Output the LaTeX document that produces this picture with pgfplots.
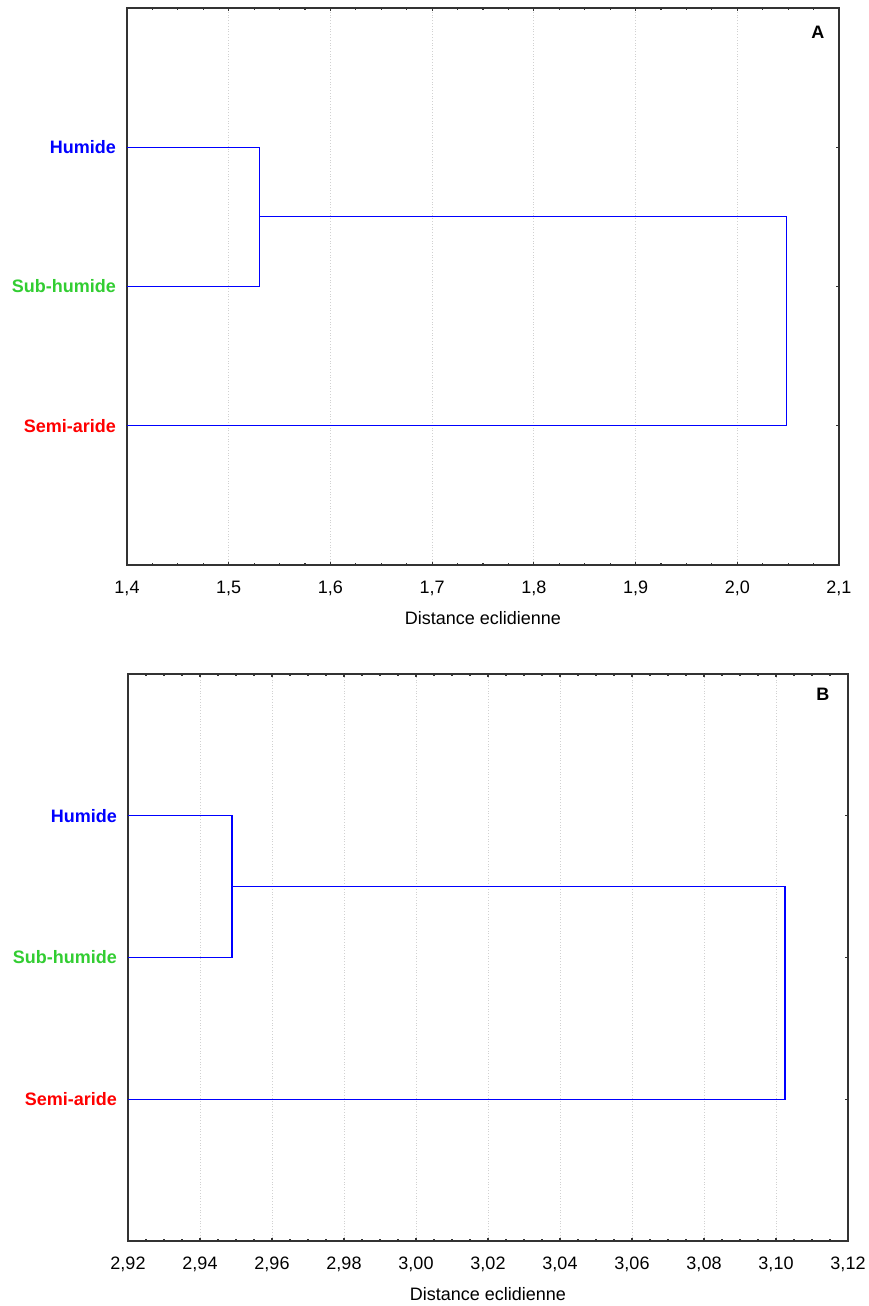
\documentclass[border=0pt]{standalone}
\usepackage{pgfplots}
\pgfplotsset{compat=1.18}
\usepackage{fontspec}
\setmainfont{Liberation Sans}
\definecolor{myblue}{RGB}{0,0,255}
\definecolor{mygreen}{RGB}{50,205,50}
\definecolor{myred}{RGB}{255,0,0}
\pgfplotsset{
  dendro/.style={
    scale only axis,
    ymin=0, ymax=4,
    ytick={1,2,3},
    yticklabels={\textbf{\textcolor{myred}{Semi-aride}}, \textbf{\textcolor{mygreen}{Sub-humide}}, \textbf{\textcolor{myblue}{Humide}}},
    minor x tick num=3,
    tick align=inside,
    major tick length=1.6bp,
    minor tick length=1.1bp,
    xticklabel pos=lower,
    yticklabel pos=left,
    xmajorgrids,
    major grid style={densely dotted, black!18, line width=0.4bp},
    axis line style={line width=0.75bp, black!80},
    every tick/.style={black!80, line width=0.6bp},
    tick label style={font=\fontsize{9bp}{11bp}\selectfont},
    xticklabel style={yshift=-4.3bp},
    yticklabel style={xshift=-2bp},
    label style={font=\fontsize{9bp}{11bp}\selectfont},
    xlabel={Distance eclidienne},
    x label style={at={(axis description cs:0.5,0)}, anchor=center, yshift=-26.3bp},
    /pgf/number format/assume math mode=true,
    /pgf/number format/use comma,
    /pgf/number format/fixed,
    /pgf/number format/fixed zerofill,
  },
}
\begin{document}
\begin{tikzpicture}
\useasboundingbox (0,0) rectangle (434.5bp,653bp);
\begin{axis}[dendro,
  at={(63.5bp,370.5bp)}, anchor=south west,
  width=356bp, height=278.5bp,
  xmin=1.4, xmax=2.1, xtick distance=0.1,
  /pgf/number format/precision=1,
]
\addplot[myblue, line width=0.55bp] coordinates {(1.4,3) (1.530,3) (1.530,2) (1.4,2)};
\addplot[myblue, line width=0.55bp] coordinates {(1.530,2.5) (2.048,2.5) (2.048,1) (1.4,1)};
\node[font=\fontsize{9bp}{11bp}\selectfont\bfseries] at (rel axis cs:0.9705,0.957) {A};
\end{axis}
\begin{axis}[dendro,
  at={(64bp,32.5bp)}, anchor=south west,
  width=360bp, height=283.5bp,
  xmin=2.92, xmax=3.12, xtick distance=0.02,
  /pgf/number format/precision=2,
]
\addplot[myblue, line width=0.55bp] coordinates {(2.92,3) (2.9489,3) (2.9489,2) (2.92,2)};
\addplot[myblue, line width=0.55bp] coordinates {(2.9489,2.5) (3.1025,2.5) (3.1025,1) (2.92,1)};
\node[font=\fontsize{9bp}{11bp}\selectfont\bfseries] at (rel axis cs:0.965,0.965) {B};
\end{axis}
\end{tikzpicture}
\end{document}
